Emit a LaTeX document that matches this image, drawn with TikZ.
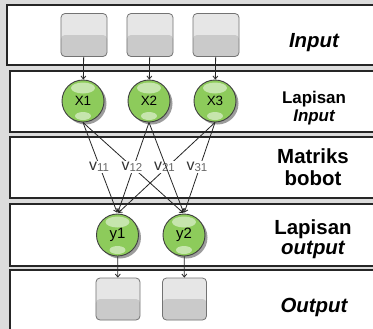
\documentclass[tikz,border=0pt]{standalone}
\usepackage{fontspec}
\setmainfont{Liberation Sans}
\usetikzlibrary{arrows.meta,shadows}
\definecolor{bgc}{HTML}{DCDCDC}
\definecolor{neurong}{HTML}{8DCB5B}
\definecolor{boxtop}{HTML}{E6E6E6}
\definecolor{boxbot}{HTML}{CACACA}
\tikzset{
  band/.style={draw=black!85, line width=1.2bp, fill=white},
  cell/.style={draw=black!55, line width=0.8bp, rounded corners=4bp, minimum width=46bp, minimum height=43bp, inner sep=0pt, fill=boxtop,
    path picture={\fill[boxbot] (path picture bounding box.west) rectangle (path picture bounding box.south east);}},
  neuron/.style={circle, draw=black!75, line width=0.9bp, minimum size=42bp, inner sep=0pt, fill=neurong,
    drop shadow={shadow xshift=2.5bp, shadow yshift=-2.5bp, fill=black!55, opacity=0.7},
    path picture={
      \fill[white, opacity=0.5] ([yshift=13bp]path picture bounding box.center) ellipse (12bp and 5.5bp);
      \fill[white, opacity=0.5] ([yshift=-15bp]path picture bounding box.center) ellipse (8bp and 4bp);
    }},
  arr/.style={draw=black!85, line width=0.8bp, -{Straight Barb[length=3bp,width=5bp]}},
  wlabel/.style={fill=white, inner sep=0.6bp, text=black!80},
  bigtxt/.style={anchor=base, inner sep=0pt, font=\fontsize{20.5}{24}\selectfont\bfseries},
  smalltxt/.style={anchor=base, inner sep=0pt, font=\fontsize{17}{20}\selectfont\bfseries},
}
\newcommand{\wv}[1]{{\fontsize{16}{16}\selectfont v}\raisebox{-1.5bp}{\fontsize{11.5}{12}\selectfont\color{black!60}#1}}
\begin{document}
\begin{tikzpicture}[x=1bp,y=-1bp]
\useasboundingbox (0,0) rectangle (373,329);
\fill[bgc] (0,0) rectangle (373,329);
% bands
\path[band] (7,5) rectangle (385,65);
\path[band] (10,71) rectangle (385,132);
\path[band] (10,137) rectangle (385,198);
\path[band] (10,204) rectangle (385,266);
\path[band] (10,270) rectangle (385,340);
% input boxes
\node[cell] (in1) at (84,35) {};
\node[cell] (in2) at (150,35) {};
\node[cell] (in3) at (216,35) {};
% input neurons
\node[neuron, font=\fontsize{13.5}{14}\selectfont] (x1) at (83,101) {X1};
\node[neuron, font=\fontsize{13.5}{14}\selectfont] (x2) at (149,101) {X2};
\node[neuron, font=\fontsize{13.5}{14}\selectfont] (x3) at (215,101) {X3};
% output neurons
\node[neuron, font=\fontsize{15}{15}\selectfont] (y1) at (117.5,235) {y1};
\node[neuron, font=\fontsize{15}{15}\selectfont] (y2) at (184,235) {y2};
% output boxes
\node[cell, minimum width=44bp, minimum height=42bp] (out1) at (118,299) {};
\node[cell, minimum width=44bp, minimum height=42bp] (out2) at (184.5,299) {};
% arrows input -> neurons
\draw[arr] (in1) -- (x1);
\draw[arr] (in2) -- (x2);
\draw[arr] (in3) -- (x3);
% weights
\draw[arr, shorten >=1bp] (x1.south) -- (y1.north);
\draw[arr, shorten >=1bp] (x1.south) -- (y2.north);
\draw[arr, shorten >=1bp] (x2.south) -- (y1.north);
\draw[arr, shorten >=1bp] (x3.south) -- (y1.north);
\draw[arr, shorten >=1bp] (x3.south) -- (y2.north);
\node[wlabel] (v11) at (99,167) {\wv{11}};
\node[wlabel] (v12) at (132,167) {\wv{12}};
\node[wlabel] (v21) at (164.5,167) {\wv{21}};
\node[wlabel] (v31) at (197,167) {\wv{31}};
\draw[arr, shorten >=1bp] (x2.south) -- (y2.north);
% outputs
\draw[arr] (y1) -- (out1);
\draw[arr] (y2) -- (out2);
% right-hand texts
\node[bigtxt, font=\fontsize{20.5}{24}\selectfont\bfseries\itshape] (t1) at (314,47) {Input};
\node[smalltxt] (t2a) at (314,103) {Lapisan};
\node[smalltxt, font=\fontsize{17}{20}\selectfont\bfseries\itshape] (t2b) at (314,121) {Input};
\node[bigtxt] (t3a) at (313,163) {Matriks};
\node[bigtxt] (t3b) at (313,185) {bobot};
\node[bigtxt] (t4a) at (313,234) {Lapisan};
\node[bigtxt, font=\fontsize{20.5}{24}\selectfont\bfseries\itshape] (t4b) at (313,254) {output};
\node[bigtxt, font=\fontsize{20.5}{24}\selectfont\bfseries\itshape] (t5) at (314,312) {Output};
\end{tikzpicture}
\end{document}
